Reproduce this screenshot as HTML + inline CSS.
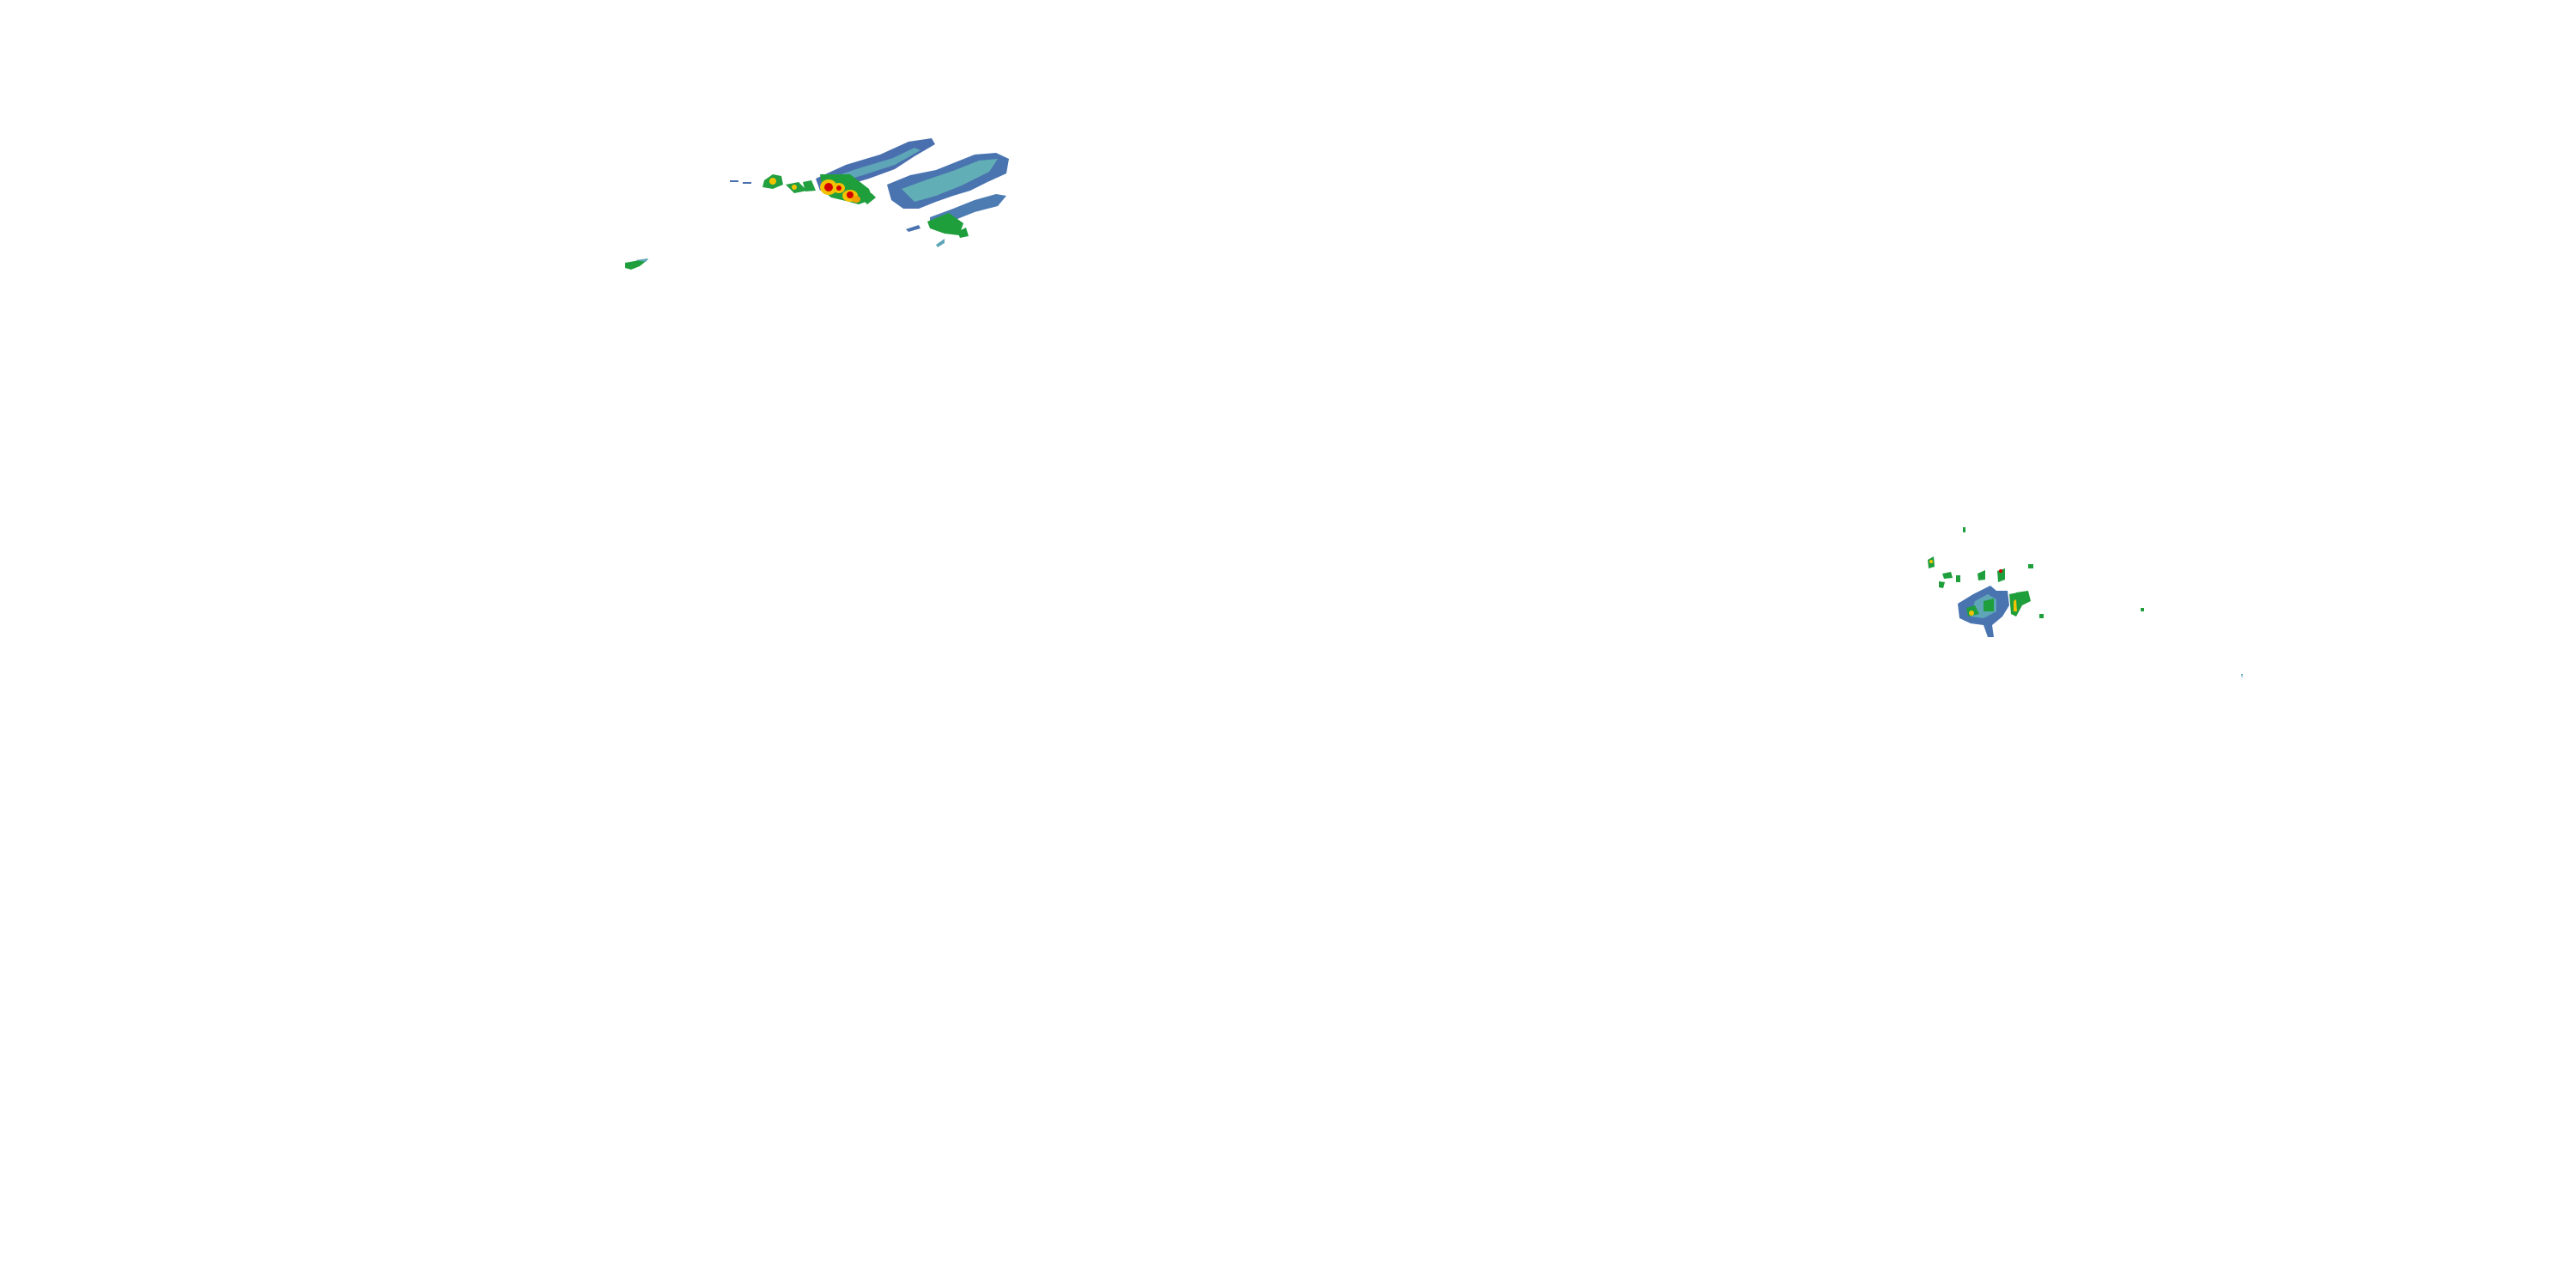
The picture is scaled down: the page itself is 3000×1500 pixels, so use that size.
<!DOCTYPE html>
<html><head><meta charset="utf-8"><style>html,body{margin:0;padding:0;background:#fff;}svg{display:block}</style></head>
<body>
<svg width="3000" height="1500" viewBox="0 0 3000 1500" xmlns="http://www.w3.org/2000/svg">
<rect width="3000" height="1500" fill="#fff"/>
<g>
<polygon points="950,208 985,192 1025,180 1058,165 1085,161 1089,168 1065,182 1042,197 1012,208 978,218 955,222" fill="#4a6fae"/>
<polygon points="965,208 1000,196 1040,184 1065,172 1072,175 1042,192 1005,204 970,214" fill="#5ea6b7"/>
<polygon points="1033,215 1060,204 1090,198 1110,190 1135,180 1160,178 1175,185 1172,202 1150,212 1130,222 1110,228 1090,235 1070,243 1052,243 1038,233" fill="#4a74b0"/>
<polygon points="1050,220 1080,209 1110,199 1140,187 1162,185 1152,200 1120,216 1090,228 1065,235" fill="#62aeb6"/>
<polygon points="1083,253 1110,243 1135,233 1160,226 1172,228 1162,240 1135,247 1110,257 1090,267 1083,262" fill="#4d7cb3"/>
<polygon points="1080,258 1105,248 1122,260 1117,274 1100,272 1083,266" fill="#1f9e3c"/>
<polygon points="1115,270 1125,265 1128,275 1118,277" fill="#1f9e3c"/>
<polygon points="1090,285 1100,278 1100,283 1092,288" fill="#5ea6b7"/>
<polygon points="1055,267 1070,262 1072,266 1058,270" fill="#4a74b0"/>
<polygon points="890,210 900,203 910,205 912,215 900,220 888,218" fill="#22a040"/>
<circle cx="900" cy="211" r="4" fill="#f2c200"/>
<polygon points="915,215 930,212 940,222 925,225" fill="#22a040"/>
<circle cx="925" cy="218" r="3" fill="#f2c200"/>
<polygon points="935,212 945,210 950,222 938,223" fill="#22a040"/>
<polygon points="955,203 990,203 1012,220 1017,232 1000,238 985,234 968,230 958,222" fill="#1f9e3c"/>
<ellipse cx="965" cy="218" rx="10" ry="9" fill="#f2c200"/>
<ellipse cx="965" cy="218" rx="5" ry="5" fill="#d40000"/>
<ellipse cx="977" cy="219" rx="7" ry="6" fill="#f2c200"/>
<ellipse cx="977" cy="219" rx="3" ry="3" fill="#d40000"/>
<ellipse cx="990" cy="228" rx="9" ry="7" fill="#f2c200"/>
<ellipse cx="990" cy="227" rx="4" ry="4" fill="#d40000"/>
<ellipse cx="997" cy="232" rx="5" ry="4" fill="#f2a000"/>
<polygon points="1000,228 1015,225 1020,230 1010,238" fill="#1f9e3c"/>
<polygon points="850,210 860,210 860,212 850,212" fill="#4a6fae"/>
<polygon points="865,212 875,212 875,214 865,214" fill="#4a6fae"/>
<polygon points="728,306 745,303 755,302 745,310 735,314 728,312" fill="#1f9e3c"/>
<polygon points="740,303 755,301 752,305" fill="#5ea6b7"/>
</g>
<g>
<polygon points="2280,703 2298,692 2310,686 2318,682 2325,688 2338,688 2340,705 2332,718 2320,728 2322,742 2315,742 2310,728 2295,726 2282,720" fill="#4a74b0"/>
<polygon points="2300,700 2315,692 2325,698 2325,712 2310,720 2295,718" fill="#5ea6b7"/>
<polygon points="2290,708 2300,705 2305,715 2292,718" fill="#1f9e3c"/>
<circle cx="2296" cy="714" r="3" fill="#f2c200"/>
<polygon points="2310,700 2322,697 2322,712 2310,712" fill="#1f9e3c"/>
<polygon points="2340,692 2350,690 2355,705 2348,718 2342,715" fill="#1f9e3c"/>
<polygon points="2345,700 2348,698 2349,712 2345,712" fill="#f2c200"/>
<polygon points="2348,690 2362,688 2365,700 2355,705" fill="#1f9e3c"/>
<polygon points="2326,665 2335,662 2335,675 2327,678" fill="#1f9e3c"/>
<circle cx="2330" cy="665" r="2" fill="#d40000"/>
<polygon points="2245,652 2252,648 2253,660 2246,662" fill="#1f9e3c"/>
<circle cx="2249" cy="654" r="2" fill="#f2c200"/>
<polygon points="2262,668 2272,666 2274,673 2264,674" fill="#1f9e3c"/>
<polygon points="2258,677 2265,678 2263,685 2258,684" fill="#1f9e3c"/>
<polygon points="2303,668 2312,664 2312,675 2304,676" fill="#1f9e3c"/>
<polygon points="2278,670 2283,670 2283,678 2278,678" fill="#1f9e3c"/>
<polygon points="2362,657 2368,657 2368,662 2362,662" fill="#1f9e3c"/>
<polygon points="2286,614 2289,614 2289,620 2286,620" fill="#1f9e3c"/>
<polygon points="2375,715 2380,715 2380,720 2375,720" fill="#1f9e3c"/>
<polygon points="2493,708 2497,708 2497,712 2493,712" fill="#1f9e3c"/>
<polygon points="2610,785 2612,785 2611,790" fill="#5ea6b7"/>
</g>
</svg>
</body></html>
